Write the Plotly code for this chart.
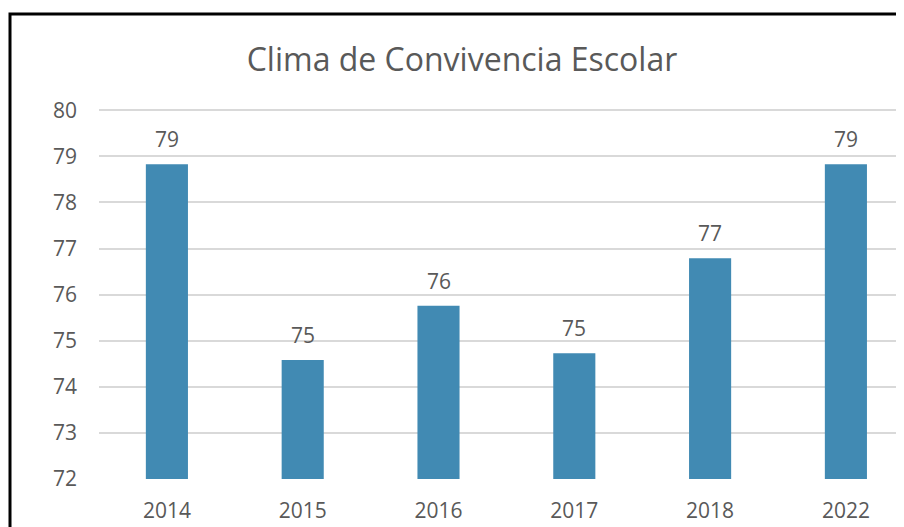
import plotly.graph_objects as go

years = ["2014", "2015", "2016", "2017", "2018", "2022"]
values = [78.83, 74.58, 75.76, 74.73, 76.79, 78.83]
labels = ["79", "75", "76", "75", "77", "79"]
y_ticks = [72, 73, 74, 75, 76, 77, 78, 79, 80]

BAR = "#418AB3"
GRID = "#D9D9D9"
TXT = "#595959"
FONT = "Open Sans"

W, H = 896, 519          # page has an 8px body margin at top/left
L, T, B = 91, 100, 48
PW, PH = W - L, H - T - B
CAT_PX = 135.8           # width of one category slot in the reference
X_MAX = -0.5 + PW / CAT_PX

fig = go.Figure()
fig.add_trace(go.Bar(x=years, y=values, marker=dict(color=BAR, line=dict(width=0)),
                     hoverinfo="skip"))

for i, (v, lab) in enumerate(zip(values, labels)):
    fig.add_annotation(x=i, y=v, xref="x", yref="y", text=lab, showarrow=False,
                       yanchor="middle", yshift=25,
                       font=dict(family=FONT, size=21, color=TXT))

fig.update_layout(
    width=W, height=H,
    margin=dict(l=L, r=0, t=T, b=B, pad=0),
    paper_bgcolor="white", plot_bgcolor="white",
    bargap=0.69,
    showlegend=False,
    title=dict(text="Clima de Convivencia Escolar", x=454 / W, xanchor="center",
               y=1 - 52 / H, yanchor="middle",
               font=dict(family=FONT, size=32, color=TXT)),
    font=dict(family=FONT, color=TXT),
)
fig.update_xaxes(type="category", range=[-0.5, X_MAX], showgrid=False, showline=False,
                 ticks="", ticklabelstandoff=17,
                 tickfont=dict(family=FONT, size=21, color=TXT))
fig.update_yaxes(range=[72, 80.05], tickvals=y_ticks, showgrid=True, gridcolor=GRID,
                 gridwidth=2, zeroline=False, showline=False, ticks="",
                 ticklabelstandoff=21,
                 tickfont=dict(family=FONT, size=21, color=TXT))

# outer frame of the chart image
fig.add_shape(type="rect", xref="paper", yref="paper",
              x0=(2 - L) / PW, x1=1.2, y0=-0.3, y1=(H - B - 6) / PH,
              line=dict(color="black", width=3), fillcolor="rgba(0,0,0,0)", layer="above")

fig.write_html("out.html")
